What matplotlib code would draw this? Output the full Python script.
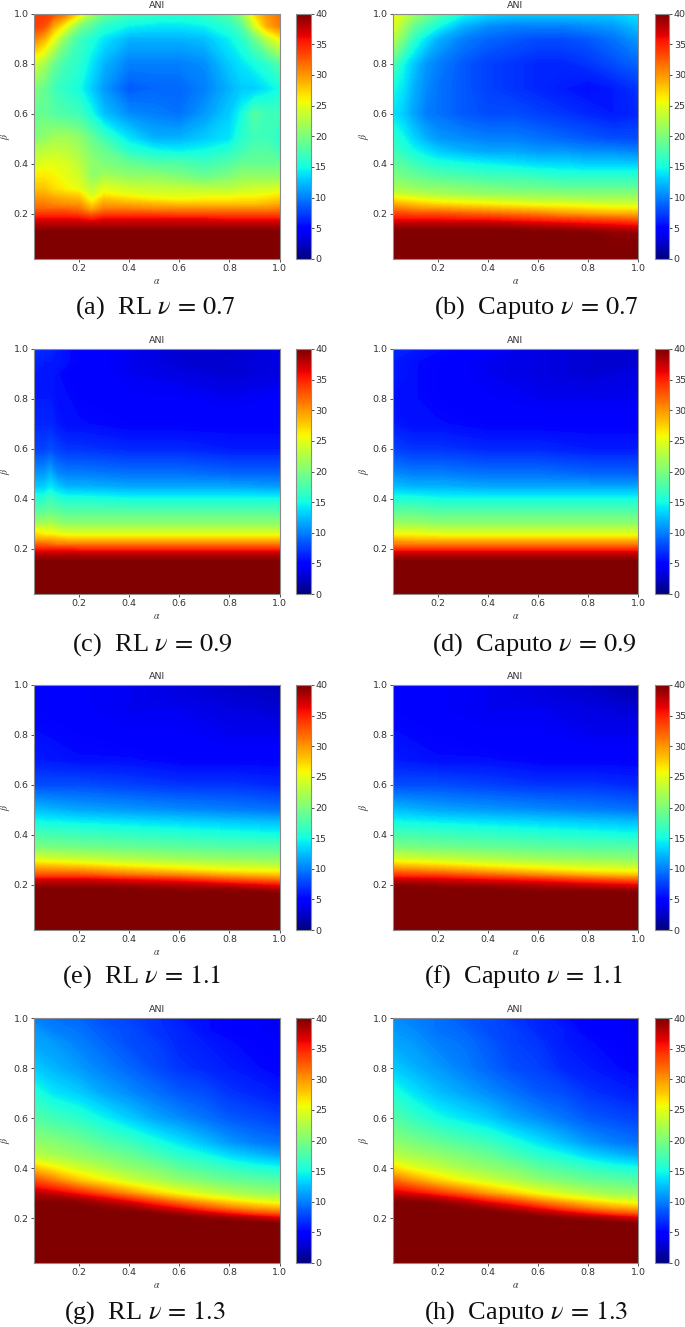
#!/usr/bin/env python3
import numpy as np
import matplotlib
matplotlib.use("Agg")
import matplotlib.pyplot as plt
from matplotlib.cm import ScalarMappable
from matplotlib.colors import Normalize

plt.rcParams["mathtext.fontset"] = "stix"

# beta rows, top of the panel first
beta = [1.0, .95, .9, .8, .7, .6, .5, .45, .4, .35, .3, .28, .26, .24, .22, .2, .18, .16, .14, .12, .02]

alpha_a = [.02, .06, .1, .15, .2, .25, .3, .4, .5, .6, .7, .8, .85, .9, .95, 1.0]
ani_a = [
  [34, 34, 33, 31, 27, 22, 19, 17, 16.5, 16, 16.5, 18, 21, 27, 30, 31.5],
  [34, 33, 29, 25, 20, 18, 16, 14.5, 14, 14, 14.5, 16, 18, 24, 29, 31],
  [31, 29, 25, 20, 17, 15.5, 14, 12, 12, 12, 12.5, 14.5, 16, 19, 23, 26],
  [24, 22, 19, 17, 16, 14, 12, 10, 10, 10, 10.5, 13, 14, 15, 16, 18],
  [20, 19, 17, 16, 15, 13, 11, 8.5, 9, 9, 10, 12, 13, 13, 14, 15],
  [19, 19, 18, 17.5, 17, 15, 12.5, 10.5, 10, 9.5, 11, 13, 15, 18, 17, 17],
  [20, 21, 22, 22, 21, 19, 17, 14, 12, 12, 13, 14, 16, 17, 17, 16],
  [23, 23, 23.5, 23, 22, 20, 19, 16, 15, 14.5, 15, 16, 17, 18, 18, 17],
  [24, 25, 25, 24.5, 23, 21, 20, 19, 18, 18, 17, 18, 19, 19, 19, 19],
  [26.5, 26.5, 26, 25, 24, 21, 22, 21, 21, 20, 19, 20, 21, 21, 21, 21],
  [28, 28, 27, 26, 25, 23, 25, 24, 23.5, 23.5, 23, 23, 23.5, 24, 24, 24.5],
  [29, 29, 28, 27.5, 27, 24, 26, 25, 24.5, 24.5, 24.5, 24.5, 25, 25, 25.5, 26],
  [30, 30, 29.5, 29, 28.5, 25, 28, 27, 26, 25.5, 26, 26, 26.5, 26.5, 27, 27.5],
  [31, 31, 30.5, 30, 30, 27, 29.5, 29, 28.5, 28, 28, 28, 28, 28, 28.5, 29],
  [32, 32, 32, 32, 31.5, 29, 31, 31, 30.5, 30.5, 30.5, 30.5, 30.5, 30.5, 30.5, 31],
  [34, 34, 34, 34, 33.5, 32, 33.5, 33.5, 33.5, 33, 33, 33, 33, 33, 33, 33],
  [36, 36, 36, 36, 36, 35, 36, 36, 36, 36, 36, 35.5, 35.5, 35.5, 35.5, 35.5],
  [38, 38, 38, 38, 38, 38, 38, 38, 38, 38, 38, 38, 38, 38, 38, 38],
  [39.5, 39.5, 39.5, 39.5, 39.5, 39.5, 39.5, 39.5, 39.5, 39.5, 39.5, 39.5, 39.5, 39.5, 39.5, 39.5],
  [40, 40, 40, 40, 40, 40, 40, 40, 40, 40, 40, 40, 40, 40, 40, 40],
  [40, 40, 40, 40, 40, 40, 40, 40, 40, 40, 40, 40, 40, 40, 40, 40],
]

alpha_b = [.02, .06, .1, .15, .2, .3, .4, .5, .6, .7, .8, .9, 1.0]
ani_b = [
  [25, 24, 22, 20, 18, 15, 13.5, 13, 13, 13, 13, 13, 14],
  [25, 22, 19, 17, 15, 12, 10.5, 10, 10, 10, 10.5, 11, 12.5],
  [23, 20, 16.5, 14, 12, 10, 9, 8.5, 8, 8, 8.5, 9.5, 11],
  [18, 15, 13, 11, 10, 8.5, 7.5, 7, 6.5, 6.5, 7, 8, 9],
  [15, 14, 12, 10.5, 9.5, 8.5, 7.5, 7, 6.5, 6, 5.5, 6, 7],
  [14, 13, 11.5, 10, 9.5, 8.5, 8, 8, 7.5, 7, 6.5, 6, 6.5],
  [16, 15, 13.5, 12, 11, 10.5, 10, 10, 9.5, 9, 8.5, 8, 8],
  [17, 16, 15, 14, 13, 12, 11.5, 11.5, 11, 11, 10.5, 10.5, 10],
  [18.5, 18, 17, 16, 15.5, 15, 14.5, 14, 13.5, 13.5, 13, 13, 13],
  [20, 19.5, 19, 18.5, 18, 17.5, 17, 17, 16.5, 16, 16, 16, 16],
  [22, 22, 21.5, 21, 21, 20.5, 20, 19.5, 19.5, 19, 19, 19, 19],
  [24, 23.5, 23, 22.5, 22, 21.5, 21, 21, 21, 20.5, 20.5, 20.5, 20.5],
  [26.5, 26, 25.5, 25, 24.5, 24, 23.5, 23, 22.5, 22.5, 22, 22, 22],
  [29, 28.5, 28, 27.5, 27, 26.5, 26, 25.5, 25, 25, 24.5, 24, 24],
  [31, 31, 30.5, 30, 30, 29.5, 29, 28.5, 28, 27.5, 27, 26.5, 26.5],
  [33.5, 33.5, 33, 33, 33, 32.5, 32, 31.5, 31, 30, 29.5, 29, 29],
  [35.5, 35.5, 35.5, 35.5, 35.5, 35, 35, 34.5, 34, 33.5, 33, 32.5, 32],
  [38, 38, 38, 38, 38, 38, 38, 37.5, 37, 36.5, 36, 35.5, 35],
  [39.5, 39.5, 39.5, 39.5, 39.5, 39.5, 39.5, 39.5, 39, 39, 38.5, 38, 37.5],
  [40, 40, 40, 40, 40, 40, 40, 40, 40, 40, 40, 39.5, 39.5],
  [40, 40, 40, 40, 40, 40, 40, 40, 40, 40, 40, 40, 40],
]

alpha_c = [.02, .06, .085, .11, .15, .2, .4, .6, .8, 1.0]
ani_c = [
  [7, 6.5, 6.5, 6, 5.5, 5, 4, 3, 2.5, 3.5],
  [6.5, 6, 6, 6, 5.5, 5, 4, 3, 3, 3.5],
  [6, 6, 6, 5.5, 5, 5, 4, 3.5, 3, 3.5],
  [6, 6, 6, 5.5, 5.5, 5, 4.5, 4.5, 4, 4.5],
  [6.5, 6.5, 6.5, 6, 5.5, 5.5, 5, 5, 5, 5],
  [7.5, 7.5, 8, 7.5, 7, 7, 6.5, 6.5, 6, 6],
  [11, 11, 12, 10.5, 10, 10, 9.5, 9.5, 9, 9],
  [13, 13, 14, 13, 12, 12, 11.5, 11.5, 11.5, 11],
  [16, 16, 17, 16, 15.5, 15.5, 15, 15, 15, 15],
  [18.5, 18.5, 19, 18.5, 18, 18, 18, 18, 18, 18],
  [22, 22, 22.5, 21.5, 21, 21, 21, 21, 21, 21],
  [25, 24.5, 24.5, 23.5, 23, 23, 23, 23, 23, 23],
  [27, 26, 26, 25.5, 25, 25, 25, 25, 25, 25],
  [29, 29, 29, 28.5, 28, 28, 28, 28, 28, 28],
  [32, 32, 31.5, 31, 31, 31, 31, 31, 31, 31],
  [35, 35, 35, 35, 35, 34.5, 34.5, 34.5, 34.5, 34.5],
  [38, 38, 38, 38, 38, 38, 38, 38, 38, 38],
  [39.5, 39.5, 39.5, 39.5, 39.5, 39.5, 39.5, 39.5, 39.5, 39.5],
  [40, 40, 40, 40, 40, 40, 40, 40, 40, 40],
  [40, 40, 40, 40, 40, 40, 40, 40, 40, 40],
  [40, 40, 40, 40, 40, 40, 40, 40, 40, 40],
]

alpha_d = [.02, .1, .2, .4, .6, .8, 1.0]
ani_d = [
  [6.5, 6, 5.5, 4.5, 3.5, 3, 2.5],
  [6, 5.5, 5, 4, 3.5, 3, 3],
  [6, 5.5, 5, 4, 3.5, 3, 3.5],
  [5.5, 5.5, 5, 4.5, 4, 4, 4],
  [6, 5.5, 5.5, 5, 5, 5, 5],
  [7.5, 7, 7, 6.5, 6.5, 6, 6],
  [10.5, 10, 10, 9.5, 9.5, 9, 9],
  [12.5, 12, 12, 11.5, 11.5, 11.5, 11.5],
  [15.5, 15.5, 15, 15, 15, 15, 15],
  [18.5, 18.5, 18, 18, 18, 18, 18],
  [21.5, 21.5, 21, 21, 21, 21, 21],
  [23.5, 23.5, 23, 23, 23, 23, 23],
  [25.5, 25.5, 25, 25, 25, 25, 25],
  [28.5, 28, 28, 28, 28, 28, 28],
  [31, 31, 31, 31, 31, 31, 31],
  [34.5, 34.5, 34.5, 34.5, 34.5, 34.5, 34.5],
  [38, 38, 38, 38, 38, 38, 38],
  [39.5, 39.5, 39.5, 39.5, 39.5, 39.5, 39.5],
  [40, 40, 40, 40, 40, 40, 40],
  [40, 40, 40, 40, 40, 40, 40],
  [40, 40, 40, 40, 40, 40, 40],
]

alpha_e = [.02, .2, .4, .6, .8, 1.0]
ani_e = [
  [5, 4.5, 4, 3.5, 2.5, 2],
  [5, 4.5, 4, 3.5, 3, 2.5],
  [5, 4.5, 4, 4, 3.5, 3],
  [5.5, 5, 4.5, 4.5, 4, 4],
  [6, 5.5, 5.5, 5, 5, 5],
  [8, 8, 7.5, 7, 7, 6.5],
  [12.5, 11.5, 11, 10.5, 10, 9.5],
  [15, 14.5, 14, 13.5, 13, 12.5],
  [17.5, 17, 16.5, 16, 15.5, 15],
  [20, 19.5, 19, 18.5, 18, 18],
  [25, 24, 23, 22, 21.5, 21],
  [28, 27, 25.5, 24.5, 23.5, 23],
  [30.5, 30, 28.5, 27, 25.5, 25],
  [33, 33, 31.5, 30.5, 29, 28],
  [37, 37, 36, 35, 33, 31.5],
  [39, 39, 38.5, 38, 37, 35.5],
  [40, 40, 40, 39.5, 39.5, 38.5],
  [40, 40, 40, 40, 40, 40],
  [40, 40, 40, 40, 40, 40],
  [40, 40, 40, 40, 40, 40],
  [40, 40, 40, 40, 40, 40],
]

alpha_f = [.02, .2, .4, .6, .8, 1.0]
ani_f = [
  [5, 4.5, 4, 3.5, 2.5, 1.5],
  [5, 4.5, 4, 3.5, 3, 2],
  [5, 4.5, 4, 4, 3.5, 3],
  [5.5, 5, 4.5, 4.5, 4, 4],
  [6, 5.5, 5.5, 5, 5, 5],
  [8, 8, 7.5, 7, 7, 6.5],
  [12.5, 11.5, 11, 10.5, 10, 9.5],
  [15, 14.5, 14, 13.5, 13, 12.5],
  [17.5, 17, 16.5, 16, 15.5, 15],
  [20, 19.5, 19, 18.5, 18, 18],
  [25, 24, 23, 22, 21.5, 21],
  [28, 27, 25.5, 24.5, 23.5, 23],
  [31, 30, 28.5, 27, 25.5, 25],
  [34, 33.5, 32, 30.5, 29, 28],
  [37.5, 37, 36, 35, 33.5, 32],
  [39.5, 39, 38.5, 38, 37, 36],
  [40, 40, 40, 39.5, 39.5, 39],
  [40, 40, 40, 40, 40, 40],
  [40, 40, 40, 40, 40, 40],
  [40, 40, 40, 40, 40, 40],
  [40, 40, 40, 40, 40, 40],
]

alpha_g = [.02, .1, .2, .3, .4, .5, .6, .7, .8, .9, 1.0]
ani_g = [
  [10, 9.5, 9, 8, 7.5, 7, 6, 5.5, 5, 4.5, 4],
  [11, 10, 9.5, 8.5, 8, 7, 6.5, 5.5, 5, 4.5, 4],
  [11.5, 11, 10, 9, 8, 7.5, 6.5, 6, 5.5, 5, 4.5],
  [13, 12, 11, 10, 9, 8, 7, 6.5, 6, 5.5, 5],
  [15.5, 14, 13, 11.5, 10.5, 9.5, 8.5, 8, 7, 6.5, 6],
  [18, 17, 16, 14.5, 13, 11.5, 10.5, 9.5, 8.5, 8, 7.5],
  [21, 20.5, 19.5, 18, 17, 15.5, 14, 12.5, 11, 10, 9.5],
  [23, 22, 21, 20, 19, 17.5, 16, 15, 13.5, 12.5, 11.5],
  [28, 26, 24, 22.5, 21, 20, 18.5, 17.5, 16.5, 15.5, 15],
  [33, 31, 28, 26, 24, 22.5, 21, 20, 19, 18.5, 18],
  [38, 37, 35, 32.5, 30, 27.5, 25.5, 24, 22.5, 21.5, 21],
  [39, 39, 38, 36, 33.5, 31, 28.5, 26.5, 25, 23.5, 23],
  [40, 40, 39.5, 38.5, 37, 34.5, 32, 30, 28, 26.5, 25.5],
  [40, 40, 40, 39.5, 39, 37.5, 35.5, 33, 31, 29.5, 28.5],
  [40, 40, 40, 40, 40, 39.5, 38.5, 37, 35, 33, 32],
  [40, 40, 40, 40, 40, 40, 40, 39.5, 39, 38, 36.5],
  [40, 40, 40, 40, 40, 40, 40, 40, 40, 40, 39.5],
  [40, 40, 40, 40, 40, 40, 40, 40, 40, 40, 40],
  [40, 40, 40, 40, 40, 40, 40, 40, 40, 40, 40],
  [40, 40, 40, 40, 40, 40, 40, 40, 40, 40, 40],
  [40, 40, 40, 40, 40, 40, 40, 40, 40, 40, 40],
]

alpha_h = [.02, .1, .2, .3, .4, .5, .6, .7, .8, .9, 1.0]
ani_h = [
  [10.5, 10, 9.5, 8.5, 8, 7, 6.5, 5.5, 5, 4.5, 4],
  [11, 10.5, 9.5, 9, 8, 7.5, 6.5, 6, 5, 4.5, 4],
  [11.5, 11, 10, 9.5, 8.5, 7.5, 7, 6, 5.5, 5, 4.5],
  [13, 12, 11, 10, 9, 8, 7.5, 6.5, 6, 5.5, 5],
  [15.5, 14, 12.5, 11.5, 10.5, 9.5, 8.5, 8, 7, 6.5, 6],
  [18, 16.5, 15, 14, 13, 11.5, 10.5, 9.5, 8.5, 8, 7.5],
  [21, 20, 19, 18, 17, 15.5, 14, 12.5, 11, 10, 9.5],
  [23, 22, 21, 20, 19, 17.5, 16, 15, 13.5, 12.5, 11.5],
  [27, 25, 23.5, 22, 21, 20, 18.5, 17.5, 16.5, 15.5, 15],
  [32, 30, 27.5, 25.5, 24, 22.5, 21, 20, 19, 18.5, 18],
  [37, 36, 34, 32, 29.5, 27.5, 25.5, 24, 22.5, 21.5, 21],
  [39, 38.5, 37.5, 35.5, 33, 31, 28.5, 26.5, 25, 23.5, 23],
  [40, 40, 39.5, 38.5, 36.5, 34.5, 32, 30, 28, 26.5, 25.5],
  [40, 40, 40, 39.5, 39, 37.5, 35.5, 33, 31, 29.5, 28.5],
  [40, 40, 40, 40, 40, 39.5, 38.5, 37, 35, 33, 32],
  [40, 40, 40, 40, 40, 40, 40, 39.5, 39, 38, 36.5],
  [40, 40, 40, 40, 40, 40, 40, 40, 40, 40, 39.5],
  [40, 40, 40, 40, 40, 40, 40, 40, 40, 40, 40],
  [40, 40, 40, 40, 40, 40, 40, 40, 40, 40, 40],
  [40, 40, 40, 40, 40, 40, 40, 40, 40, 40, 40],
  [40, 40, 40, 40, 40, 40, 40, 40, 40, 40, 40],
]

captions = ["(a)  RL $\\nu\\,=\\,0.7$", "(b)  Caputo $\\nu\\,=\\,0.7$",
            "(c)  RL $\\nu\\,=\\,0.9$", "(d)  Caputo $\\nu\\,=\\,0.9$",
            "(e)  RL $\\nu\\,=\\,1.1$", "(f)  Caputo $\\nu\\,=\\,1.1$",
            "(g)  RL $\\nu\\,=\\,1.3$", "(h)  Caputo $\\nu\\,=\\,1.3$"]
alphas = [alpha_a, alpha_b, alpha_c, alpha_d, alpha_e, alpha_f, alpha_g, alpha_h]
panels = [ani_a, ani_b, ani_c, ani_d, ani_e, ani_f, ani_g, ani_h]

W, H = 685, 1327
tops = [13.5, 349, 685, 1018]
bottoms = [259, 594, 930, 1263]
lefts = [34, 392.7]
cap_x = [155, 536, 152, 534, 142, 523, 144.5, 526]
cap_y = [308, 308, 645, 645, 977, 977, 1313, 1313]
TEXT = "#333333"
EDGE = "#8c8c8c"


def box(x0, y0, x1, y1):
  return [x0 / W, 1 - y1 / H, (x1 - x0) / W, (y1 - y0) / H]


fig = plt.figure(figsize=(W / 100, H / 100), dpi=100)
levels = np.arange(0, 40.1, 0.2)

for i, (al, ani) in enumerate(zip(alphas, panels)):
  row, col = i // 2, i % 2
  x0 = lefts[col]
  ax = fig.add_axes(box(x0, tops[row], x0 + 245.6, bottoms[row]))
  ax.contourf(al, beta, np.array(ani, dtype=float), levels=levels, cmap="jet", vmin=0, vmax=40, antialiased=False)
  ax.set_xlim(0.02, 1.0)
  ax.set_ylim(0.02, 1.0)
  ax.set_xticks([.2, .4, .6, .8, 1.0])
  ax.set_yticks([.2, .4, .6, .8, 1.0])
  ax.tick_params(labelsize=6.8, length=2, width=0.6, pad=1.8, colors=TEXT)
  ax.set_title("ANI", fontsize=6.8, color=TEXT, pad=4)
  ax.set_xlabel("$\\alpha$", fontsize=7, color=TEXT, labelpad=2)
  ax.set_ylabel("$\\beta$", fontsize=7, color=TEXT, labelpad=1)
  for s in ax.spines.values():
    s.set_color(EDGE)
    s.set_linewidth(0.8)

  cax = fig.add_axes(box(x0 + 262, tops[row], x0 + 276.5, bottoms[row]))
  cb = fig.colorbar(ScalarMappable(Normalize(0, 40), "jet"), cax=cax, ticks=range(0, 41, 5))
  cb.ax.tick_params(labelsize=6.8, length=2, width=0.6, pad=1.3, colors=TEXT)
  cb.outline.set_edgecolor(EDGE)
  cb.outline.set_linewidth(0.8)

  fig.text(cap_x[i] / W, 1 - cap_y[i] / H, captions[i], family="Liberation Serif",
           fontsize=19, ha="center", va="center", color="#111111")

fig.savefig("out.png", dpi=100)
